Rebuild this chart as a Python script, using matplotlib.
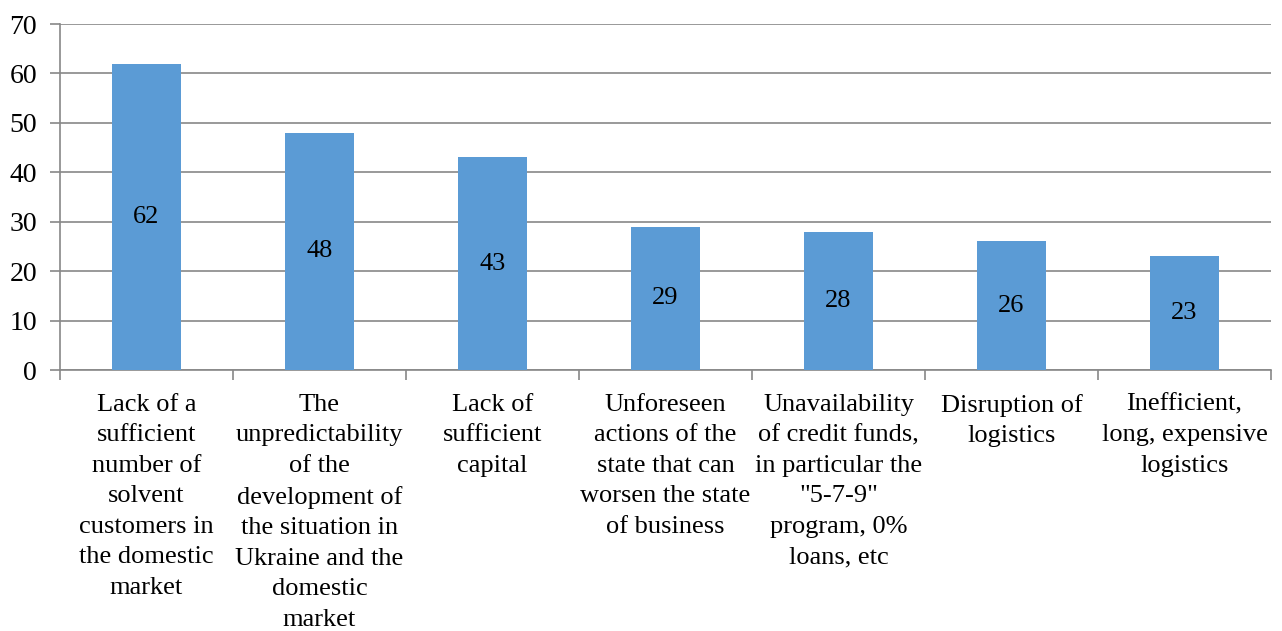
import matplotlib.pyplot as plt
import numpy as np

# data
categories = [
    "Lack of a\nsufficient\nnumber of\nsolvent\ncustomers in\nthe domestic\nmarket",
    "The\nunpredictability\nof the\ndevelopment of\nthe situation in\nUkraine and the\ndomestic\nmarket",
    "Lack of\nsufficient\ncapital",
    "Unforeseen\nactions of the\nstate that can\nworsen the state\nof business",
    "Unavailability\nof credit funds,\nin particular the\n\"5-7-9\"\nprogram, 0%\nloans, etc",
    "Disruption of\nlogistics",
    "Inefficient,\nlong, expensive\nlogistics",
]
values = [62, 48, 43, 29, 28, 26, 23]
y_ticks = [0, 10, 20, 30, 40, 50, 60, 70]

plt.rcParams['font.family'] = ['Liberation Serif', 'DejaVu Serif']
fs = 19

fig = plt.figure(figsize=(12.82, 6.31), dpi=100)
ax = fig.add_axes([60 / 1282, 1 - 370 / 631, 1211 / 1282, 346 / 631])

x = np.arange(len(values))
bars = ax.bar(x, values, width=0.4, color='#5B9BD5', zorder=3)
for b, v in zip(bars, values):
    ax.text(b.get_x() + b.get_width() / 2, v / 2, str(v), ha='center', va='center',
            fontsize=fs, zorder=4)

ax.set_xlim(-0.5, len(values) - 0.5)
ax.set_ylim(0, 70)
ax.set_yticks(y_ticks)
ax.tick_params(axis='y', labelsize=20, length=7.5, width=1.2, color='#888888', pad=9)
ax.yaxis.grid(True, color='#888888', linewidth=1.2, zorder=0)

ax.set_xticks(x)
ax.set_xticklabels(categories, fontsize=fs, linespacing=1.5, va='top')
ax.tick_params(axis='x', which='major', length=0, pad=17)
ax.set_xticks(np.arange(-0.5, len(values)), minor=True)
ax.tick_params(axis='x', which='minor', length=7, width=1.2, color='#888888')

for s in ['top', 'right']:
    ax.spines[s].set_visible(False)
for s in ['left', 'bottom']:
    ax.spines[s].set_color('#888888')
    ax.spines[s].set_linewidth(1.2)

fig.savefig('out.png', dpi=100)
